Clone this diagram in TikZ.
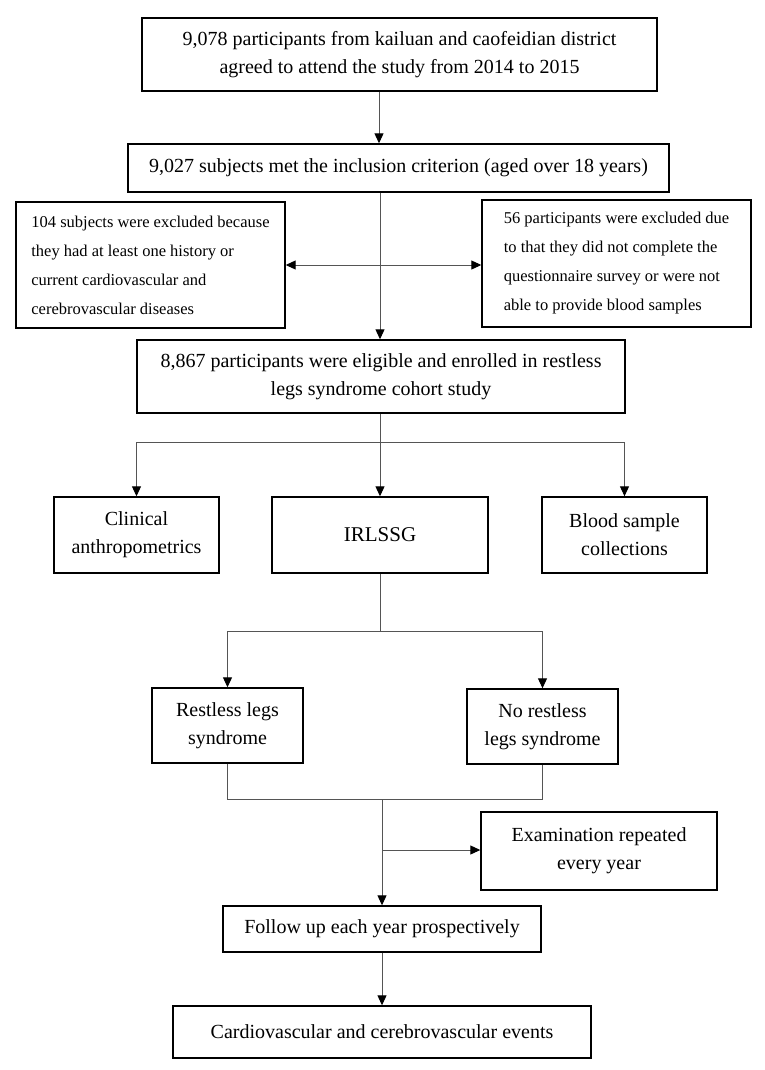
\documentclass[tikz,border=0pt]{standalone}
\usepackage{fontspec}
\setmainfont{Liberation Serif}
\usetikzlibrary{arrows.meta}
\begin{document}
\begin{tikzpicture}[x=1pt,y=-1pt,
  box/.style={draw=black,line width=1.4pt,fill=white,inner sep=0pt,align=center,font=\fontsize{20}{28}\selectfont},
  sidebox/.style={draw=black,line width=1.4pt,fill=white,inner sep=0pt,align=left,font=\fontsize{16.5}{29}\selectfont},
  conn/.style={draw={rgb,255:red,85;green,85;blue,85},line width=1pt},
  arr/.style={conn,-{Triangle[length=10pt,width=9pt,color=black]}},
  darr/.style={conn,{Triangle[length=10pt,width=9pt,color=black]}-{Triangle[length=10pt,width=9pt,color=black]}}
]
\useasboundingbox[fill=white] (0,0) rectangle (765,1070);

\node[box,minimum width=515pt,minimum height=73pt] (b1) at (399.5,54.5)
  {9,078 participants from kailuan and caofeidian district\\agreed to attend the study from 2014 to 2015};
\node[box,minimum width=541pt,minimum height=48pt] (b2) at (398.5,168)
  {9,027 subjects met the inclusion criterion (aged over 18 years)};
\node[sidebox,minimum width=269pt,minimum height=126pt] (lft) at (150.5,265)
  {104 subjects were excluded because\\they had at least one history or\\current cardiovascular and\\cerebrovascular diseases};
\node[sidebox,minimum width=269pt,minimum height=127pt] (rgt) at (616.5,263.5)
  {56 participants were excluded due\\to that they did not complete the\\questionnaire survey or were not\\able to provide blood samples};
\node[box,minimum width=488pt,minimum height=73pt] (b4) at (381,376.5)
  {8,867 participants were eligible and enrolled in restless\\legs syndrome cohort study};
\node[box,minimum width=165pt,minimum height=76pt] (clin) at (136.5,535)
  {Clinical\\anthropometrics};
\node[box,minimum width=216pt,minimum height=76pt,font=\fontsize{21}{28}\selectfont] (irl) at (380,535)
  {IRLSSG};
\node[box,minimum width=165pt,minimum height=76pt] (blood) at (624.5,535)
  {Blood sample\\collections};
\node[box,minimum width=151pt,minimum height=75pt] (rls) at (227.5,725.5)
  {Restless legs\\syndrome};
\node[box,minimum width=151pt,minimum height=75pt] (nrls) at (542.5,726.5)
  {No restless\\legs syndrome};
\node[box,minimum width=236pt,minimum height=78pt] (exam) at (599,851)
  {Examination repeated\\every year};
\node[box,minimum width=318pt,minimum height=46pt] (fu) at (382,929)
  {Follow up each year prospectively};
\node[box,minimum width=418pt,minimum height=52pt] (cv) at (382,1032)
  {Cardiovascular and cerebrovascular events};

\coordinate (sx1) at (379,0);
\coordinate (sx2) at (380,0);
\coordinate (hy1) at (0,442);
\coordinate (hy2) at (0,631);
\coordinate (hy3) at (0,799);
\coordinate (br) at (382,850);

\draw[arr] (b1.south -| sx1) -- (b2.north -| sx1);
\draw[arr] (b2.south -| sx2) -- (b4.north -| sx2);
\draw[darr] (lft.east) -- (lft.east -| rgt.west);

\draw[conn] (b4.south -| sx2) -- (sx2 |- hy1);
\draw[conn] (clin.north |- hy1) -- (blood.north |- hy1);
\draw[arr] (clin.north |- hy1) -- (clin.north);
\draw[arr] (irl.north |- hy1) -- (irl.north);
\draw[arr] (blood.north |- hy1) -- (blood.north);

\draw[conn] (irl.south) -- (irl.south |- hy2);
\draw[conn] (rls.north |- hy2) -- (nrls.north |- hy2);
\draw[arr] (rls.north |- hy2) -- (rls.north);
\draw[arr] (nrls.north |- hy2) -- (nrls.north);

\draw[conn] (rls.south) -- (rls.south |- hy3) -- (nrls.south |- hy3) -- (nrls.south);
\draw[arr] (fu.north |- hy3) -- (fu.north);
\draw[arr] (br) -- (br -| exam.west);
\draw[arr] (fu.south) -- (cv.north);
\end{tikzpicture}
\end{document}
